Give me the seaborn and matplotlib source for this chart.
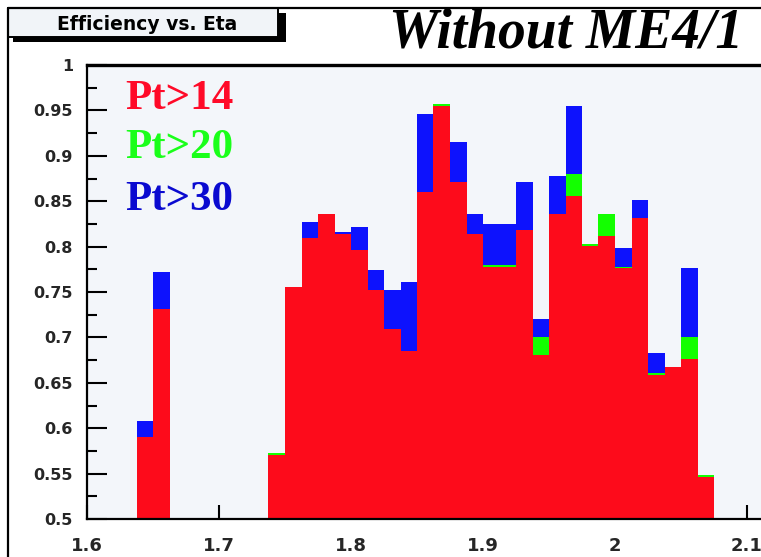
import matplotlib
matplotlib.use("Agg")
import matplotlib.pyplot as plt
from matplotlib.patches import Rectangle
from matplotlib.lines import Line2D
from matplotlib.ticker import MultipleLocator, FixedLocator, FixedFormatter
import seaborn as sns

# Eta bin centres (bin width 0.0125) and efficiencies for the three Pt thresholds
eta_centers = [1.64375, 1.65625, 1.74375, 1.75625, 1.76875, 1.78125, 1.79375,
               1.80625, 1.81875, 1.83125, 1.84375, 1.85625, 1.86875, 1.88125,
               1.89375, 1.90625, 1.91875, 1.93125, 1.94375, 1.95625, 1.96875,
               1.98125, 1.99375, 2.00625, 2.01875, 2.03125, 2.04375, 2.05625,
               2.06875]
eff_pt14 = [0.5905, 0.7318, 0.5706, 0.756, 0.809, 0.8355, 0.8135,
            0.796, 0.7517, 0.7097, 0.6854, 0.8598, 0.9547, 0.871,
            0.8135, 0.778, 0.778, 0.818, 0.681, 0.8355, 0.8554,
            0.8002, 0.8113, 0.776, 0.831, 0.659, 0.6678, 0.6766,
            0.5464]
eff_pt20 = [0.5905, 0.7318, 0.5728, 0.756, 0.809, 0.8355, 0.8135,
            0.796, 0.7517, 0.7097, 0.6854, 0.8598, 0.957, 0.871,
            0.8135, 0.780, 0.780, 0.818, 0.7009, 0.8355, 0.8797,
            0.8024, 0.8355, 0.778, 0.831, 0.661, 0.6678, 0.7009,
            0.5486]
eff_pt30 = [0.608, 0.7715, 0.5728, 0.756, 0.8267, 0.8355, 0.8157,
            0.822, 0.7737, 0.7517, 0.7605, 0.946, 0.957, 0.915,
            0.8355, 0.8245, 0.8245, 0.871, 0.7207, 0.8775, 0.9547,
            0.8024, 0.8355, 0.798, 0.851, 0.6832, 0.6678, 0.776,
            0.5486]

legend_labels = ["Pt>14", "Pt>20", "Pt>30"]
x_ticks = [1.6, 1.7, 1.8, 1.9, 2.0, 2.1]
x_ticklabels = ["1.6", "1.7", "1.8", "1.9", "2", "2.1"]
y_ticks = [0.5, 0.55, 0.6, 0.65, 0.7, 0.75, 0.8, 0.85, 0.9, 0.95, 1.0]
y_ticklabels = ["0.5", "0.55", "0.6", "0.65", "0.7", "0.75", "0.8",
                "0.85", "0.9", "0.95", "1"]

RED = "#fd0b1b"
GREEN = "#13ff00"
BLUE = "#0d12fd"
FRAME_BG = "#f3f6fa"

sns.set_style("white")

W, H = 761, 557
fig = plt.figure(figsize=(W / 100, H / 100), dpi=100)
fig.patch.set_facecolor("white")


def px(x, y):
    return x / W, 1 - y / H


# plot frame: left edge at x=87px, y from 65px to 519px; x axis runs past the right edge
x_lo, x_hi = 1.6, 2.12
ax_w_px = (x_hi - x_lo) * 1320
ax = fig.add_axes([87 / W, (H - 519) / H, ax_w_px / W, (519 - 65) / H])
ax.set_facecolor(FRAME_BG)

# filled step histograms, Pt>30 at the back and Pt>14 in front
for vals, col in [(eff_pt30, BLUE), (eff_pt20, GREEN), (eff_pt14, RED)]:
    sns.histplot(x=eta_centers, weights=vals, binwidth=0.0125, binrange=(1.6, 2.1),
                 element="step", fill=True, color=col, alpha=1, linewidth=0,
                 edgecolor="none", antialiased=False, ax=ax)

ax.set_xlim(x_lo, x_hi)
ax.set_ylim(0.5, 1.0)
ax.set_xlabel("")
ax.set_ylabel("")

ax.xaxis.set_major_locator(FixedLocator(x_ticks))
ax.xaxis.set_major_formatter(FixedFormatter(x_ticklabels))
ax.xaxis.set_minor_locator(MultipleLocator(0.05))
ax.yaxis.set_major_locator(FixedLocator(y_ticks))
ax.yaxis.set_major_formatter(FixedFormatter(y_ticklabels))
ax.yaxis.set_minor_locator(MultipleLocator(0.025))

ax.tick_params(axis="x", which="major", direction="in", length=10, width=1.5,
               color="black", pad=13, labelsize=13)
ax.tick_params(axis="x", which="minor", direction="in", length=4.5, width=1.5,
               color="black")
ax.tick_params(axis="y", which="major", direction="in", length=14.5, width=1.5,
               color="black", pad=10, labelsize=11.5)
ax.tick_params(axis="y", which="minor", direction="in", length=7, width=1.5,
               color="black")
ax.tick_params(bottom=True, left=True, which="both")
for lab in ax.get_xticklabels() + ax.get_yticklabels():
    lab.set_fontweight("bold")
    lab.set_family("DejaVu Sans")

for side in ["left", "bottom"]:
    ax.spines[side].set_visible(True)
    ax.spines[side].set_color("black")
    ax.spines[side].set_linewidth(1.6)
ax.spines["top"].set_visible(True)
ax.spines["top"].set_color("black")
ax.spines["top"].set_linewidth(2.4)
ax.spines["right"].set_visible(False)

# threshold labels inside the frame
for (lab, col, base_y) in zip(legend_labels, ["#ff0a28", "#1aff1a", "#0a0ad0"],
                              [109, 158, 210]):
    fig.text(*px(125, base_y), lab, color=col, fontsize=31, fontweight="bold",
             family="Liberation Serif", ha="left", va="baseline")

# outer pad border (left and top)
fig.add_artist(Line2D([8 / W, 8 / W, 1.0], [0.0, 1 - 8 / H, 1 - 8 / H],
                      transform=fig.transFigure, color="black", lw=1.6))

# title box with shadow
fig.add_artist(Rectangle(px(13, 42), (286 - 13) / W, (42 - 13) / H,
                         transform=fig.transFigure, facecolor="black",
                         edgecolor="none"))
fig.add_artist(Rectangle(px(8, 37), (278 - 8) / W, (37 - 8) / H,
                         transform=fig.transFigure, facecolor="#f1f4f8",
                         edgecolor="black", lw=1.4))
fig.text(*px(147, 24), "Efficiency vs. Eta", fontsize=13.5, fontweight="bold",
         family="DejaVu Sans", ha="center", va="center", color="black")

fig.text(*px(566, 48), "Without ME4/1", fontsize=40, fontweight="bold",
         style="italic", family="Liberation Serif", ha="center", va="baseline",
         color="black")

fig.savefig("out.png", dpi=100)
